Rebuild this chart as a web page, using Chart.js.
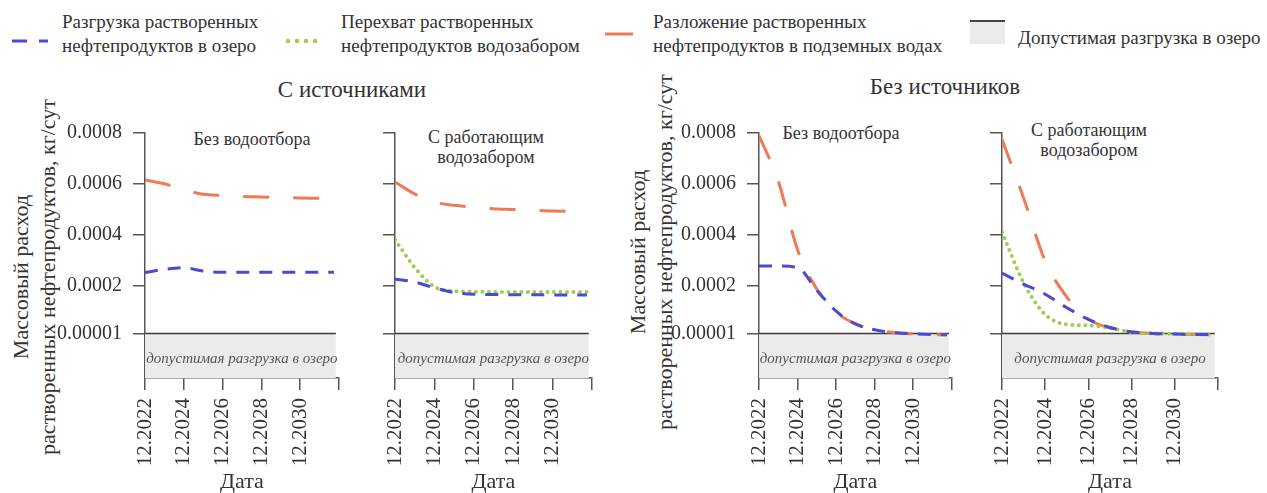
<!DOCTYPE html>
<html lang="ru">
<head>
<meta charset="utf-8">
<title>Массовый расход растворенных нефтепродуктов</title>
<script src="https://cdn.jsdelivr.net/npm/chart.js@4.4.1/dist/chart.umd.min.js"></script>
<style>
	body {
		margin: 0;
		width: 1267px;
		height: 493px;
		position: relative;
		overflow: hidden;
		background: #fff;
		font-family: 'Liberation Serif', 'DejaVu Serif', serif;
		color: #333;
	}
	.abs { position: absolute; white-space: nowrap; }
	.legend-text { font-size: 19px; line-height: 24px; }
	.group-title { font-size: 23px; line-height: 26px; transform: translateX(-50%); }
	.sub-title { font-size: 18px; line-height: 20px; text-align: center; transform: translateX(-50%); }
	.y-title {
		font-size: 22px;
		line-height: 27px;
		text-align: center;
		transform: translate(-50%, -50%) rotate(-90deg);
	}
	.limit-box {
		background: #ebebeb;
		border-top: 2px solid #444;
		box-sizing: border-box;
	}
</style>
</head>
<body>

<svg class="abs" style="left:12px;top:34px" width="36" height="14">
	<line x1="0" y1="7" x2="36" y2="7" stroke="#4b4bd2" stroke-width="3" stroke-dasharray="15 12" />
</svg>
<div class="abs legend-text" style="left:62px;top:10px">Разгрузка растворенных<br>нефтепродуктов в озеро</div>

<svg class="abs" style="left:284px;top:34px" width="40" height="14">
	<line x1="4" y1="7" x2="36" y2="7" stroke="#9bcf4c" stroke-width="4.5" stroke-linecap="round" stroke-dasharray="0 9" />
</svg>
<div class="abs legend-text" style="left:341px;top:10px">Перехват растворенных<br>нефтепродуктов водозабором</div>

<svg class="abs" style="left:605px;top:27px" width="28" height="14">
	<line x1="0" y1="7" x2="28" y2="7" stroke="#ee7b56" stroke-width="3" />
</svg>
<div class="abs legend-text" style="left:653px;top:10px">Разложение растворенных<br>нефтепродуктов в подземных водах</div>

<div class="abs limit-box" style="left:970px;top:20px;width:35px;height:24px"></div>
<div class="abs legend-text" style="left:1018px;top:26px">Допустимая разгрузка в озеро</div>

<div class="abs group-title" style="left:352px;top:77px">С источниками</div>
<div class="abs group-title" style="left:945px;top:74px">Без источников</div>

<div class="abs sub-title" style="left:252px;top:129px">Без водоотбора</div>
<div class="abs sub-title" style="left:486px;top:127px">С работающим<br>водозабором</div>
<div class="abs sub-title" style="left:841px;top:123px">Без водоотбора</div>
<div class="abs sub-title" style="left:1089px;top:120px">С работающим<br>водозабором</div>

<div class="abs y-title" style="left:34px;top:277px">Массовый расход<br>растворенных нефтепродуктов, кг/сут</div>
<div class="abs y-title" style="left:651px;top:252px">Массовый расход<br>растворенных нефтепродуктов, кг/сут</div>

<canvas id="p1" class="abs" style="left:0px;top:100px" width="372" height="393"></canvas>
<canvas id="p2" class="abs" style="left:372px;top:100px" width="253" height="393"></canvas>
<canvas id="p3" class="abs" style="left:610px;top:100px" width="375" height="393"></canvas>
<canvas id="p4" class="abs" style="left:985px;top:100px" width="282" height="393"></canvas>

<script>
// годы от 12.2022
const yearOffsets = [0, 1, 2, 3, 4, 5, 6, 7, 8, 9, 9.75]
const xTickValues = [0, 2, 4, 6, 8, 10]
const xTickLabels = ['12.2022', '12.2024', '12.2026', '12.2028', '12.2030', '']
const yTickValues = [0.00001, 0.0002, 0.0004, 0.0006, 0.0008]
const yTickLabels = ['0.00001', '0.0002', '0.0004', '0.0006', '0.0008']
const limitValue = 0.00001
const limitSpan = [0, 9.85]

const dischargeName = 'Разгрузка растворенных нефтепродуктов в озеро'
const interceptName = 'Перехват растворенных нефтепродуктов водозабором'
const decayName = 'Разложение растворенных нефтепродуктов в подземных водах'
const limitName = 'Допустимая разгрузка в озеро'
const limitCaptionText = 'допустимая разгрузка в озеро'

// С источниками, без водоотбора
const dischargeSrcNoIntake = [0.00025, 0.000263, 0.00027, 0.000256, 0.000252, 0.000252, 0.000252, 0.000252, 0.000252, 0.000252, 0.000252]
const decaySrcNoIntake = [0.000615, 0.0006, 0.000577, 0.000559, 0.000554, 0.00055, 0.000548, 0.000546, 0.000544, 0.000543, 0.000543]
// С источниками, с работающим водозабором
const dischargeSrcIntake = [0.000225, 0.000213, 0.00019, 0.000172, 0.000165, 0.000164, 0.000163, 0.000163, 0.000162, 0.000162, 0.000162]
const interceptSrcIntake = [0.00038, 0.00027, 0.000195, 0.000177, 0.000175, 0.000174, 0.000174, 0.000174, 0.000174, 0.000174, 0.000174]
const decaySrcIntake = [0.000607, 0.00056, 0.000528, 0.000515, 0.000508, 0.000502, 0.000499, 0.000496, 0.000493, 0.000492, 0.000492]
// Без источников, без водоотбора
const dischargeNoSrcNoIntake = [0.000276, 0.000276, 0.00027, 0.00018, 0.000098, 0.000048, 0.000025, 0.000014, 0.000009, 0.000006, 0.000005]
const decayNoSrcNoIntake = [0.00079, 0.00061, 0.00034, 0.000185, 0.000095, 0.000048, 0.000025, 0.000014, 0.000009, 0.000006, 0.000005]
// Без источников, с работающим водозабором
const dischargeNoSrcIntake = [0.000248, 0.000205, 0.000165, 0.000112, 0.000066, 0.000034, 0.000017, 0.00001, 0.000008, 0.000006, 0.000006]
const interceptNoSrcIntake = [0.00041, 0.00021, 0.000085, 0.000046, 0.000042, 0.000032, 0.000016, 0.000011, 0.000009, 0.000008, 0.000007]
const decayNoSrcIntake = [0.000775, 0.000544, 0.000296, 0.000154, 0.000067, 0.000032, 0.000016, 0.00001, 0.000007, 0.000006, 0.000005]

const fontFamily = "'Liberation Serif', 'DejaVu Serif', serif"
const textColor = '#333'
const axisColor = '#555'
const blue = '#4b4bd2'
const green = '#9bcf4c'
const orange = '#ee7b56'

const points = (values) => yearOffsets.map((x, i) => ({ x, y: values[i] }))

const limitCaption = {
	id: 'limitCaption',
	afterDatasetsDraw(chart) {
		const { ctx, chartArea, scales } = chart
		const top = scales.y.getPixelForValue(limitValue)
		ctx.save()
		ctx.font = `italic 15px ${fontFamily}`
		ctx.fillStyle = '#555'
		ctx.textAlign = 'center'
		ctx.textBaseline = 'middle'
		ctx.fillText(
			limitCaptionText,
			(chartArea.left + chartArea.right) / 2,
			(top + chartArea.bottom) / 2 + 3,
		)
		ctx.restore()
	},
}

function lineSet(label, values, color, dash, width, cap) {
	return {
		label,
		data: points(values),
		borderColor: color,
		borderWidth: width,
		borderDash: dash,
		borderCapStyle: cap || 'butt',
		pointRadius: 0,
		fill: false,
		cubicInterpolationMode: 'monotone',
	}
}

function buildPanel(id, series, yWidth, rightPad, showYLabels) {
	const datasets = []
	if (series.discharge) datasets.push(lineSet(dischargeName, series.discharge, blue, [13, 10], 3))
	if (series.intercept) datasets.push(lineSet(interceptName, series.intercept, green, [0, 6.5], 4, 'round'))
	if (series.decay) datasets.push(lineSet(decayName, series.decay, orange, [26, 24], 3))
	datasets.push({
		label: limitName,
		data: limitSpan.map((x) => ({ x, y: limitValue })),
		borderColor: '#3c3c3c',
		borderWidth: 1.5,
		backgroundColor: '#ebebeb',
		fill: 'start',
		pointRadius: 0,
	})

	new Chart(document.getElementById(id), {
		type: 'line',
		data: { datasets },
		plugins: [limitCaption],
		options: {
			responsive: false,
			animation: false,
			layout: { padding: { top: 33, right: rightPad, left: 0, bottom: 0 } },
			plugins: {
				legend: { display: false },
				tooltip: { enabled: false },
			},
			scales: {
				x: {
					type: 'linear',
					min: 0,
					max: 10,
					afterBuildTicks: (s) => {
						s.ticks = xTickValues.map((value) => ({ value }))
					},
					afterFit: (s) => {
						s.height = 115
					},
					border: { color: axisColor, width: 1.5 },
					grid: {
						drawOnChartArea: false,
						drawTicks: true,
						tickLength: 12,
						color: axisColor,
						lineWidth: 1.5,
					},
					ticks: {
						autoSkip: false,
						minRotation: 90,
						maxRotation: 90,
						padding: 8,
						color: textColor,
						font: { family: fontFamily, size: 21 },
						callback: (v, i) => xTickLabels[i],
					},
					title: {
						display: true,
						text: 'Дата',
						color: textColor,
						font: { family: fontFamily, size: 22, lineHeight: 1 },
						padding: { top: 0, bottom: 0 },
					},
				},
				y: {
					type: 'linear',
					min: -0.000165,
					max: 0.0008,
					afterBuildTicks: (s) => {
						s.ticks = yTickValues.map((value) => ({ value }))
					},
					afterFit: (s) => {
						s.width = yWidth
					},
					border: { color: axisColor, width: 1.5 },
					grid: {
						drawOnChartArea: false,
						drawTicks: true,
						tickLength: 12,
						color: axisColor,
						lineWidth: 1.5,
					},
					ticks: {
						display: showYLabels,
						padding: 11,
						color: textColor,
						font: { family: fontFamily, size: 20 },
						callback: (v, i) => yTickLabels[i],
					},
				},
			},
		},
	})
}

buildPanel('p1', { discharge: dischargeSrcNoIntake, decay: decaySrcNoIntake }, 145, 12, true)
buildPanel('p2', { discharge: dischargeSrcIntake, intercept: interceptSrcIntake, decay: decaySrcIntake }, 23, 15, false)
buildPanel('p3', { discharge: dischargeNoSrcNoIntake, decay: decayNoSrcNoIntake }, 149, 10, true)
buildPanel('p4', { discharge: dischargeNoSrcIntake, intercept: interceptNoSrcIntake, decay: decayNoSrcIntake }, 17, 49, false)
</script>
</body>
</html>
